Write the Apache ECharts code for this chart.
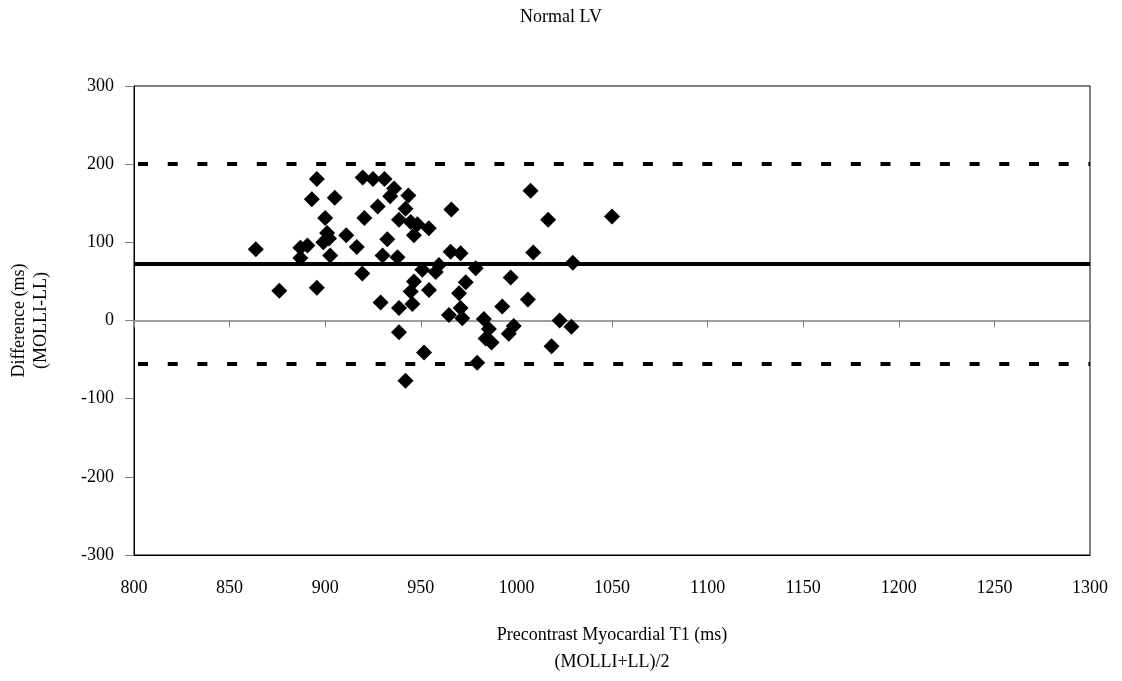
<!DOCTYPE html>
<html>
<head>
<meta charset="utf-8">
<title>Normal LV</title>
<script src="https://cdn.jsdelivr.net/npm/echarts@6/dist/echarts.min.js"></script>
<style>
  html, body { margin: 0; padding: 0; background: #fff; }
  #chart { width: 1122px; height: 681px; }
</style>
</head>
<body>
<div id="chart"></div>
<script>
// Bland-Altman data: mean of the two T1 methods vs. their difference (ms)
const avgT1 = [
  863.7, 876, 887, 890.7, 887, 895.6, 895.6, 893, 905, 900,
  901, 902, 899, 911, 902.6, 916.5, 919.4, 920.5, 919.6, 925,
  931, 936, 934, 943.5, 927.5, 942, 938.6, 944.7, 948.2, 954.2,
  946.4, 932.5, 930, 937.8, 966, 965.6, 970.8, 1007.4, 1016.6, 1050,
  1008.8, 1029.5, 950.8, 957.8, 959.5, 978.7, 946.4, 954.3, 944.7, 973.5,
  970, 929, 938.6, 945.6, 970.8, 964.7, 971.7, 983, 997, 1006,
  992.6, 985.6, 983.9, 987, 998.6, 996, 1022.6, 1028.8, 1018.4, 938.6,
  951.7, 979.5, 942
];
const diffT1 = [
  91, 38, 93, 96, 80, 42, 181, 155, 157, 131,
  112, 105, 100, 109, 83, 94, 60, 131, 183, 181,
  181, 169, 159, 160, 146, 143, 129, 126, 123, 118,
  109, 104, 83, 81, 142, 88, 86, 166, 129, 133,
  87, 74, 65, 62, 71, 67, 50, 39, 37, 49,
  35, 23, 16, 21, 16, 7, 3, 2, 55, 27,
  18, -11, -23, -28, -7, -17, 0, -8, -33, -15,
  -41, -54, -77
];
const meanDiff = 73;
const upperLoA = 201;
const lowerLoA = -55;

const xTicks = [800, 850, 900, 950, 1000, 1050, 1100, 1150, 1200, 1250, 1300];
const yTicks = [-300, -200, -100, 0, 100, 200, 300];

const points = avgT1.map((x, i) => [x, diffT1[i]]);
const FONT = '"Liberation Serif", "Times New Roman", serif';
const FS = 18;
const plain = v => String(v);

const chart = echarts.init(document.getElementById('chart'), null, { renderer: 'canvas' });
chart.setOption({
  animation: false,
  backgroundColor: '#ffffff',
  textStyle: { fontFamily: FONT, color: '#000' },
  title: {
    text: 'Normal LV',
    left: 'center',
    top: 3,
    textStyle: { fontFamily: FONT, fontSize: FS, fontWeight: 'normal', color: '#000' }
  },
  grid: {
    left: 133, top: 86, right: 32, bottom: 126,
    show: true, borderColor: '#000', borderWidth: 1, backgroundColor: '#fff'
  },
  xAxis: [
    {
      type: 'value',
      min: xTicks[0], max: xTicks[xTicks.length - 1], interval: 50,
      position: 'bottom',
      axisLine: { onZero: false, lineStyle: { color: '#000', width: 1 } },
      axisTick: { show: false },
      splitLine: { show: false },
      axisLabel: { fontFamily: FONT, fontSize: FS, color: '#000', margin: 24, formatter: plain },
      name: 'Precontrast Myocardial T1 (ms)\n(MOLLI+LL)/2',
      nameLocation: 'middle',
      nameGap: 67,
      nameTextStyle: { fontFamily: FONT, fontSize: FS, color: '#000', lineHeight: 27 }
    },
    {
      // zero reference line with its tick marks
      type: 'value',
      min: xTicks[0], max: xTicks[xTicks.length - 1], interval: 50,
      position: 'top',
      axisLine: { show: true, onZero: true, onZeroAxisIndex: 0, lineStyle: { color: '#808080', width: 1.5 } },
      axisTick: { show: true, inside: true, length: 7, lineStyle: { color: '#808080', width: 1 } },
      axisLabel: { show: false },
      splitLine: { show: false }
    }
  ],
  yAxis: {
    type: 'value',
    min: yTicks[0], max: yTicks[yTicks.length - 1], interval: 100,
    axisLine: { show: true, onZero: false, lineStyle: { color: '#000', width: 1 } },
    axisTick: { show: true, length: 9, lineStyle: { color: '#808080', width: 1 } },
    splitLine: { show: false },
    axisLabel: { fontFamily: FONT, fontSize: FS, color: '#000', margin: 20, formatter: plain },
    name: 'Difference (ms)\n(MOLLI-LL)',
    nameLocation: 'middle',
    nameRotate: 90,
    nameGap: 82,
    nameTextStyle: { fontFamily: FONT, fontSize: FS, color: '#000', lineHeight: 22 }
  },
  series: [
    {
      type: 'scatter',
      xAxisIndex: 0,
      data: points,
      symbol: 'diamond',
      symbolSize: 16,
      itemStyle: { color: '#000', opacity: 1 },
      markLine: {
        silent: true,
        symbol: ['none', 'none'],
        label: { show: false },
        animation: false,
        data: [
          { yAxis: meanDiff, lineStyle: { color: '#000', width: 4, type: 'solid' } },
          { yAxis: upperLoA, lineStyle: { color: '#000', width: 4, type: [10, 19.7], dashOffset: -4 } },
          { yAxis: lowerLoA, lineStyle: { color: '#000', width: 4, type: [10, 19.7], dashOffset: -4 } }
        ]
      }
    }
  ]
});
</script>
</body>
</html>
